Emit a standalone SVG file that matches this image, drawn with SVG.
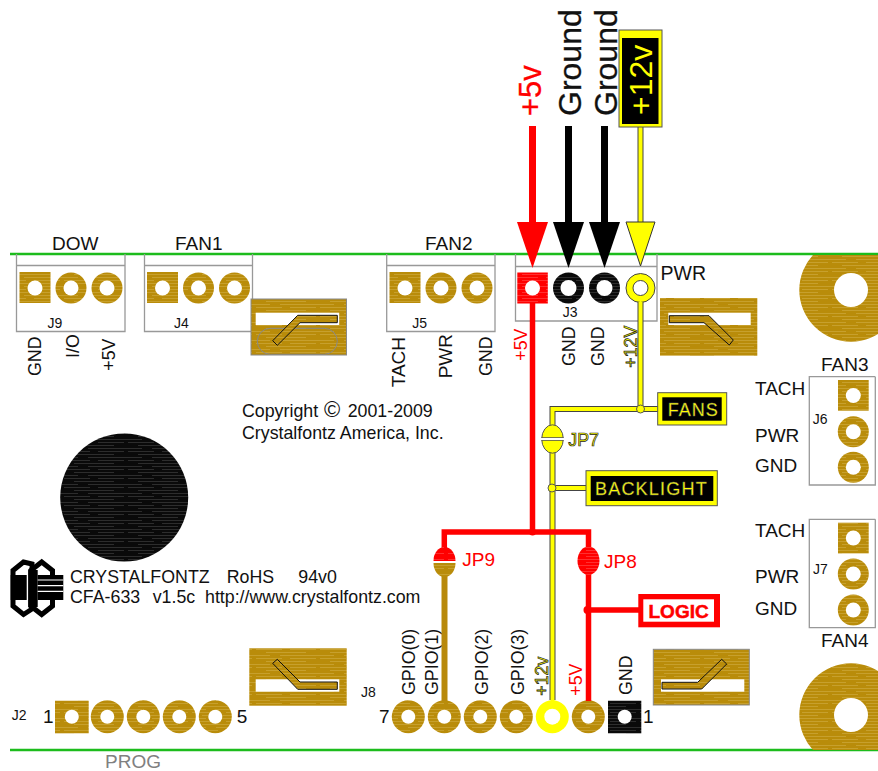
<svg xmlns="http://www.w3.org/2000/svg" width="878" height="771" viewBox="0 0 878 771">
<style>
text{font-family:"Liberation Sans",Arial,sans-serif;font-size:19px;fill:#111}
.s{font-size:14px}
.m{font-size:17.8px}
.r{fill:#f00}
.y{fill:#ff0;stroke:#222;stroke-width:.7px}
.big{font-size:32px;stroke:#111;stroke-width:.3px}
.box{fill:none;stroke:#999;stroke-width:1.3}
.gp{fill:url(#gold)}
.bk{fill:url(#blk)}
.rd{fill:url(#red)}
.hole{fill:#fff}
.tab{fill:url(#gold)}
.slot{fill:#fff}
.arm{fill:url(#gold);stroke:#111;stroke-width:1}
.wr{fill:none;stroke:#f00;stroke-width:5.5}
.wg{fill:none;stroke:#b8890b;stroke-width:6}
.wyo{fill:none;stroke:#444;stroke-width:6}
.wyi{fill:none;stroke:#ff0;stroke-width:4}
.green{stroke:#1cbc1c;stroke-width:2.5}
</style>
<defs>
<pattern id="gold" patternUnits="userSpaceOnUse" width="64" height="9">
<rect width="64" height="9" fill="#b98c0a"/>
<path d="M0 1.5H26M34 1.5H60M10 4.5H50M0 7.5H14M24 7.5H64" stroke="#cda93c" stroke-width=".7" fill="none"/>
</pattern>
<pattern id="blk" patternUnits="userSpaceOnUse" width="64" height="9">
<rect width="64" height="9" fill="#0a0a0a"/>
<path d="M0 1.5H26M34 1.5H60M10 4.5H50M0 7.5H14M24 7.5H64" stroke="#444" stroke-width=".6" fill="none"/>
</pattern>
<pattern id="red" patternUnits="userSpaceOnUse" width="64" height="6">
<rect width="64" height="6" fill="#f00"/>
<path d="M0 1.5H26M34 1.5H60M10 4.5H50" stroke="#ff5050" stroke-width=".6" fill="none"/>
</pattern>
<marker id="ar" markerUnits="userSpaceOnUse" markerWidth="47" markerHeight="31" refX="0" refY="15.5" orient="auto"><path d="M0 0L46 15.5L0 31Z" fill="#f00"/></marker>
<marker id="ab" markerUnits="userSpaceOnUse" markerWidth="47" markerHeight="31" refX="0" refY="15.5" orient="auto"><path d="M0 0L46 15.5L0 31Z" fill="#000"/></marker>
<marker id="ay" markerUnits="userSpaceOnUse" markerWidth="47" markerHeight="31" refX="1" refY="15.5" orient="auto"><path d="M1 1L45 15.5L1 30Z" fill="#ff0" stroke="#333"/></marker>
<clipPath id="b1"><rect x="790" y="255" width="88" height="100"/></clipPath>
<clipPath id="b2"><rect x="790" y="650" width="88" height="100"/></clipPath>
</defs>

<g id="board">
<line class="green" x1="10" y1="254" x2="878" y2="254"/>
<line class="green" x1="10" y1="750" x2="878" y2="750"/>
</g>

<g id="J9">
<path class="box" d="M16.5 254V331.5H125V254M16.5 265.5H125"/>
<rect class="gp" x="19.5" y="272" width="31" height="31"/><circle class="hole" cx="35" cy="288" r="7.5"/>
<circle class="gp" cx="71" cy="288" r="15.5"/><circle class="hole" cx="71" cy="288" r="7.5"/>
<circle class="gp" cx="107" cy="288" r="15.5"/><circle class="hole" cx="107" cy="288" r="7.5"/>
<text x="52" y="250">DOW</text><text class="s" x="47.5" y="327.7">J9</text>
<text class="m" transform="translate(40.7 376) rotate(-90)">GND</text>
<text class="m" transform="translate(79.3 358) rotate(-90)">I/O</text>
<text class="m" transform="translate(115 370.7) rotate(-90)">+5V</text>
</g>
<g id="J4">
<path class="box" d="M144.5 254V331.5H252.5V254M144.5 265.5H252.5"/>
<rect class="gp" x="147" y="272" width="31" height="31"/><circle class="hole" cx="162.5" cy="288" r="7.5"/>
<circle class="gp" cx="198.5" cy="288" r="15.5"/><circle class="hole" cx="198.5" cy="288" r="7.5"/>
<circle class="gp" cx="234.5" cy="288" r="15.5"/><circle class="hole" cx="234.5" cy="288" r="7.5"/>
<text x="175" y="250">FAN1</text><text class="s" x="174" y="327.7">J4</text>
</g>
<g id="J5">
<path class="box" d="M386.7 254V331.5H495V254M386.7 265.5H495"/>
<rect class="gp" x="389.5" y="272" width="31" height="31"/><circle class="hole" cx="405" cy="288" r="7.5"/>
<circle class="gp" cx="441" cy="288" r="15.5"/><circle class="hole" cx="441" cy="288" r="7.5"/>
<circle class="gp" cx="477" cy="288" r="15.5"/><circle class="hole" cx="477" cy="288" r="7.5"/>
<text x="425" y="250">FAN2</text><text class="s" x="412.3" y="327.7">J5</text>
<text transform="translate(405 387.3) rotate(-90)">TACH</text>
<text transform="translate(451.7 378.3) rotate(-90)">PWR</text>
<text class="m" transform="translate(491.7 376) rotate(-90)">GND</text>
</g>
<g id="J3">
<path class="box" d="M515.5 254V321H657V254M515.5 266.5H657"/>
<rect class="rd" x="517.3" y="272.5" width="30.5" height="31"/><circle class="hole" cx="532.5" cy="288" r="7.5"/>
<circle class="bk" cx="568.5" cy="288" r="15.5"/><circle class="hole" cx="568.5" cy="288" r="8"/>
<circle class="bk" cx="604.5" cy="288" r="15.5"/><circle class="hole" cx="604.5" cy="288" r="8"/>
<circle cx="640.5" cy="288" r="14.5" fill="#ff0" stroke="#444"/><circle cx="640.5" cy="288" r="7.5" fill="#fff" stroke="#444"/>
<text x="660.5" y="280" style="font-size:19.5px">PWR</text><text class="s" x="562.7" y="316.7">J3</text>
<text class="m r" transform="translate(526.7 360.7) rotate(-90)">+5V</text>
<text class="m" transform="translate(575 366) rotate(-90)">GND</text>
<text class="m" transform="translate(604.3 366) rotate(-90)">GND</text>
<text class="m y" transform="translate(636.7 367.7) rotate(-90)">+12V</text>
</g>

<g id="tab1">
<rect class="tab" x="251" y="299" width="95.5" height="56" stroke="#888" stroke-width="1"/>
<rect class="slot" x="255.7" y="312.7" width="83.5" height="12.3"/>
<rect x="257.3" y="328.3" width="80" height="26" rx="13" fill="none" stroke="#888" stroke-width="1"/>
<path class="arm" d="M337.3 315.3H297.7L272.7 340.7L277.3 345.3L300 322.7H337.3Z"/>
</g>
<g id="tab2">
<rect class="tab" x="660" y="298" width="97.3" height="57.7"/>
<rect class="slot" x="668.3" y="312.7" width="82.4" height="12.3"/>
<path class="arm" d="M669.3 315.7H709L733.3 340L729.3 345L704 322.7H669.3Z"/>
</g>
<g id="tab3">
<rect class="tab" x="249.3" y="648.3" width="97.4" height="57.4"/>
<rect class="slot" x="255.7" y="679.3" width="83.6" height="12.4"/>
<path class="arm" d="M272.7 663.3L277.3 659.3L300 682H337.3V689.3H297.7Z"/>
</g>
<g id="tab4">
<rect class="tab" x="653.3" y="649.3" width="96" height="55.7" stroke="#888" stroke-width="1"/>
<rect class="slot" x="661" y="679.3" width="83.3" height="12.4"/>
<path class="arm" d="M662 682.3H697.7L721.7 659.3L726.7 664L701.7 689H662Z"/>
</g>

<g id="mount1" clip-path="url(#b1)">
<path class="gp" fill-rule="evenodd" d="M799.3 290a51.7 51.7 0 1 0 103.4 0a51.7 51.7 0 1 0 -103.4 0ZM834 290a17 17 0 1 1 34 0a17 17 0 1 1 -34 0Z"/>
</g>
<g id="mount2" clip-path="url(#b2)">
<path class="gp" fill-rule="evenodd" d="M799.3 715a51.7 51.7 0 1 0 103.4 0a51.7 51.7 0 1 0 -103.4 0ZM834 715a17 17 0 1 1 34 0a17 17 0 1 1 -34 0Z"/>
</g>

<g id="J6">
<path class="box" d="M875.3 376.7H809.3V485H875.3V376.7"/>
<rect class="gp" x="838" y="380" width="30.7" height="30.7"/><circle class="hole" cx="853.3" cy="395.5" r="7.5"/>
<circle class="gp" cx="853.3" cy="431.7" r="15.5"/><circle class="hole" cx="853.3" cy="431.7" r="7.5"/>
<circle class="gp" cx="853.3" cy="467.3" r="15.5"/><circle class="hole" cx="853.3" cy="467.3" r="7.5"/>
<text x="821" y="370.7">FAN3</text><text class="s" x="812.7" y="424">J6</text>
<text x="755" y="395">TACH</text><text x="755" y="441.7">PWR</text><text x="755" y="472.3">GND</text>
</g>
<g id="J7">
<path class="box" d="M875.3 519.3H809.3V627.7H875.3V519.3"/>
<rect class="gp" x="838" y="522.7" width="30.7" height="30.7"/><circle class="hole" cx="853.3" cy="538" r="7.5"/>
<circle class="gp" cx="853.3" cy="574" r="15.5"/><circle class="hole" cx="853.3" cy="574" r="7.5"/>
<circle class="gp" cx="853.3" cy="610" r="15.5"/><circle class="hole" cx="853.3" cy="610" r="7.5"/>
<text x="821" y="647.3">FAN4</text><text class="s" x="813" y="574">J7</text>
<text x="755" y="537.3">TACH</text><text x="755" y="583.3">PWR</text><text x="755" y="615">GND</text>
</g>

<g id="speaker"><circle class="bk" cx="124.2" cy="497.5" r="64"/></g>
<g id="copyright">
<text class="m" x="242" y="417.3">Copyright<tspan x="324" style="font-size:22px">©</tspan><tspan x="347.7">2001-2009</tspan></text>
<text class="m" x="242" y="439.3">Crystalfontz America, Inc.</text>
</g>
<g id="logo">
<polygon points="32,564 23.5,562 13,570.5 13,606 23.5,614.5 32,609" fill="#fff" stroke="#000" stroke-width="5"/>
<rect x="10.7" y="575" width="16" height="25" fill="#000"/>
<polygon points="41.7,562 30.8,570.5 30.8,606 41.7,614.5 52.5,606 52.5,570.5" fill="#fff" stroke="#000" stroke-width="5"/>
<rect x="28.3" y="570" width="9.4" height="37" fill="#000"/>
<rect x="37.7" y="575" width="25.6" height="25" fill="#000"/>
<path d="M37.7 580H63.3M37.7 585.7H63.3M37.7 591.3H63.3" stroke="#fff" stroke-width="1.2"/>
<text class="m" x="70" y="582.7">CRYSTALFONTZ<tspan x="226.7">RoHS</tspan><tspan x="298.3">94v0</tspan></text>
<text class="m" x="70" y="603.3">CFA-633<tspan x="152.7">v1.5c</tspan><tspan x="205">http://www.crystalfontz.com</tspan></text>
</g>

<g id="J2">
<rect class="gp" x="55" y="700.7" width="33.7" height="32.6"/><circle class="hole" cx="71.8" cy="716.7" r="7"/>
<circle class="gp" cx="107.3" cy="716.7" r="16.5"/><circle class="hole" cx="107.3" cy="716.7" r="7"/>
<circle class="gp" cx="143.3" cy="716.7" r="16.5"/><circle class="hole" cx="143.3" cy="716.7" r="7"/>
<circle class="gp" cx="179.3" cy="716.7" r="16.5"/><circle class="hole" cx="179.3" cy="716.7" r="7"/>
<circle class="gp" cx="215.3" cy="716.7" r="16.5"/><circle class="hole" cx="215.3" cy="716.7" r="7"/>
<text class="s" x="11.7" y="720">J2</text><text x="43" y="722.7">1</text><text x="236.7" y="722.7">5</text>
<text x="105" y="768" style="fill:#808080">PROG</text>
</g>
<g id="J8">
<circle class="gp" cx="408.3" cy="716.7" r="16.5"/><circle class="hole" cx="408.3" cy="716.7" r="7"/>
<circle class="gp" cx="444.3" cy="716.7" r="16.5"/><circle class="hole" cx="444.3" cy="716.7" r="7"/>
<circle class="gp" cx="480.3" cy="716.7" r="16.5"/><circle class="hole" cx="480.3" cy="716.7" r="7"/>
<circle class="gp" cx="516.3" cy="716.7" r="16.5"/><circle class="hole" cx="516.3" cy="716.7" r="7"/>
<circle cx="552.3" cy="716.7" r="16.5" fill="#ff0"/><circle class="hole" cx="552.3" cy="716.7" r="8"/>
<circle class="gp" cx="588.3" cy="716.7" r="16.5"/><circle class="hole" cx="588.3" cy="716.7" r="7"/>
<rect class="bk" x="608" y="700.7" width="33.3" height="32.6"/><circle class="hole" cx="624.7" cy="716.7" r="7"/>
<text class="s" x="361" y="696.7">J8</text><text x="379" y="722.7">7</text><text x="643" y="722.7">1</text>
<text class="m" transform="translate(415 695) rotate(-90)">GPIO(0)</text>
<text class="m" transform="translate(437.7 695) rotate(-90)">GPIO(1)</text>
<text class="m" transform="translate(487.7 695) rotate(-90)">GPIO(2)</text>
<text class="m" transform="translate(524 695) rotate(-90)">GPIO(3)</text>
<text class="m y" transform="translate(548.3 695.7) rotate(-90)">+12v</text>
<text class="m r" transform="translate(582.3 695.7) rotate(-90)">+5V</text>
<text class="m" transform="translate(632.3 695) rotate(-90)">GND</text>
</g>

<g id="connectors">
<path class="wyo" d="M640.5 302V409H552.5V425M552.5 453V700M552.5 488H586M640.5 409H658"/>
<path class="wyi" d="M640.5 302V409H552.5V425M552.5 453V702M552.5 488H588M640.5 409H660"/>
<circle cx="640.5" cy="409" r="4" fill="#ff0" stroke="#555"/>
<circle cx="552" cy="488" r="4" fill="#ff0" stroke="#555"/>
<path class="wr" d="M532.5 303V532M444.3 549V532H588.5V549M588.5 573V701M588.5 610H640"/>
<circle cx="532.5" cy="532" r="3.5" fill="#f00"/>
<circle cx="587.5" cy="610" r="4" fill="#f00"/>
<path class="wg" d="M444.5 575V701"/>
<line x1="532.5" y1="126" x2="532.5" y2="222" stroke="#f00" stroke-width="7" marker-end="url(#ar)"/>
<line x1="568.5" y1="126" x2="568.5" y2="222" stroke="#000" stroke-width="7" marker-end="url(#ab)"/>
<line x1="604.5" y1="126" x2="604.5" y2="222" stroke="#000" stroke-width="7" marker-end="url(#ab)"/>
<line class="wyo" x1="640.5" y1="126" x2="640.5" y2="222"/>
<line x1="640.5" y1="126" x2="640.5" y2="222" stroke="#ff0" stroke-width="4" marker-end="url(#ay)"/>
</g>

<g id="JP7">
<ellipse cx="552.5" cy="439" rx="10.8" ry="14.2" fill="#ff0" stroke="#555"/>
<path d="M541 439H564" stroke="#fff" stroke-width="2"/>
<path d="M541.5 437.5H563.5M541.5 440.5H563.5" stroke="#555" stroke-width=".8"/>
<text class="m y" x="568.3" y="446">JP7</text>
</g>
<g id="JP8">
<ellipse class="rd" cx="588.5" cy="560.8" rx="11" ry="14.2"/>
<text class="r" x="604" y="568.3">JP8</text>
</g>
<g id="JP9">
<path class="rd" d="M433.5 561A11 14 0 0 1 455.5 561Z"/>
<path class="gp" d="M433.5 563H455.5A11 14 0 0 1 433.5 563Z"/>
<text class="r" x="462.3" y="565.7">JP9</text>
</g>

<g id="label5v"><text class="r big" style="stroke:#f00;font-size:31px" transform="translate(540.7 116) rotate(-90)">+5v</text></g>
<g id="labelGround1"><text class="big" transform="translate(580.5 116) rotate(-90)">Ground</text></g>
<g id="labelGround2"><text class="big" transform="translate(616.5 116) rotate(-90)">Ground</text></g>
<g id="label12v">
<rect x="619" y="30" width="43" height="97" fill="#ff0" stroke="#555"/>
<rect x="622" y="38" width="36.5" height="86" fill="#000"/>
<text style="font-size:32px;fill:#ff0" transform="translate(651.7 115) rotate(-90)">+12v</text>
</g>
<g id="FANS">
<rect x="657.7" y="392.7" width="69" height="32.3" fill="#ff0" stroke="#555"/>
<rect x="662.3" y="397.3" width="59.4" height="23.4" fill="#000"/>
<text x="667.7" y="416" letter-spacing="1" style="font-size:18px;fill:#ff0;stroke:#666;stroke-width:.4px">FANS</text>
</g>
<g id="BACKLIGHT">
<rect x="586" y="470.7" width="131.3" height="35" fill="#ff0" stroke="#555"/>
<rect x="590.7" y="476" width="122.6" height="25" fill="#000"/>
<text x="595" y="495" letter-spacing="1.2" style="font-size:18px;fill:#ff0;stroke:#666;stroke-width:.4px">BACKLIGHT</text>
</g>
<g id="LOGIC">
<rect x="638.3" y="594" width="81.7" height="33.3" fill="#f00"/>
<rect x="643.3" y="599.3" width="70.7" height="22.4" fill="#fff"/>
<text class="r" x="648.5" y="617.7" style="font-weight:bold;font-size:19px;stroke:#f00;stroke-width:.5px">LOGIC</text>
</g>
</svg>
